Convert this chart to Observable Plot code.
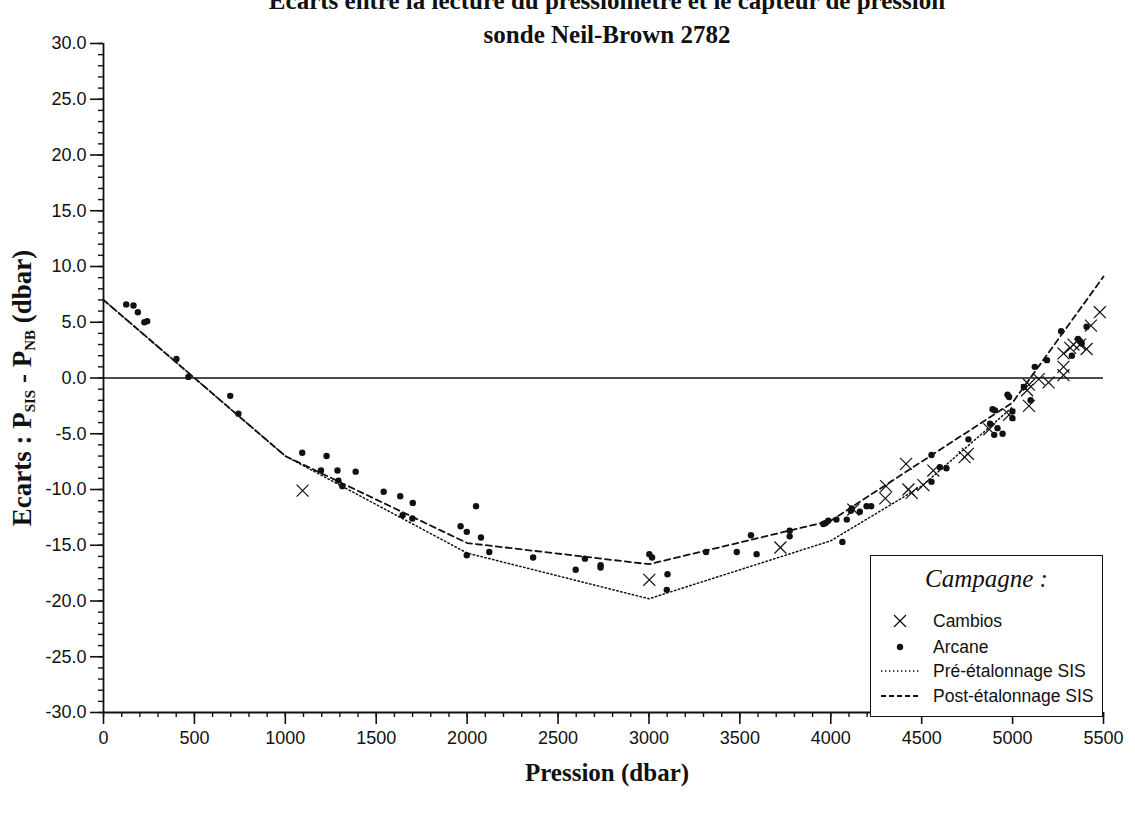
<!DOCTYPE html>
<html>
<head>
<meta charset="utf-8">
<script src="https://cdn.jsdelivr.net/npm/d3@7"></script>
<script src="https://cdn.jsdelivr.net/npm/@observablehq/plot@0.6"></script>
<style>
  html, body { margin: 0; padding: 0; background: white; }
  #wrap { position: relative; width: 1135px; height: 813px; overflow: hidden; }
  #legend { position: absolute; left: 870px; top: 555px; width: 233px; height: 162px;
    box-sizing: border-box; border: 1.5px solid #111; background: white;
    font-family: "Liberation Sans", Arial, sans-serif; font-size: 17.5px; color: #111; }
  #legend .ttl { position: absolute; left: 0; width: 100%; top: 8px; text-align: center;
    font-family: "Liberation Serif", "Times New Roman", serif; font-style: italic; font-size: 25px; line-height: 30px; }
  #legend .row { position: absolute; left: 0; width: 100%; height: 20px; line-height: 20px; }
  #legend .row svg { position: absolute; left: 10px; top: 0; }
  #legend .row span { position: absolute; left: 62px; top: 0; white-space: nowrap; }
</style>
</head>
<body>
<div id="wrap"></div>
<script>
// ---- data ----
const titleLines = ["Ecarts entre la lecture du pressiomètre et le capteur de pression", "sonde Neil-Brown 2782"];
const xLabel = "Pression (dbar)";
const seriesNames = ["Cambios", "Arcane", "Pré-étalonnage SIS", "Post-étalonnage SIS"];
const legendTitle = "Campagne :";

const xMajorTicks = [0, 500, 1000, 1500, 2000, 2500, 3000, 3500, 4000, 4500, 5000, 5500];
const yMajorTicks = [-30, -25, -20, -15, -10, -5, 0, 5, 10, 15, 20, 25, 30];
const xMinorTicks = d3.range(0, 5501, 100);
const yMinorTicks = d3.range(-30, 31, 1);

// Cambios (crosses)
const cambiosP = [1095, 3002, 3723, 4124, 4300, 4304, 4414, 4427, 4445, 4509, 4564, 4736, 4754, 4872, 4981,
  5080, 5090, 5090, 5144, 5198, 5280, 5280, 5280, 5317, 5335, 5371, 5407, 5431, 5480];
const cambiosE = [-10.1, -18.1, -15.2, -11.8, -10.8, -9.7, -7.7, -10.0, -10.3, -9.6, -8.3, -7.1, -6.8, -4.6, -3.3,
  -1.1, -2.5, -0.6, -0.1, -0.4, 0.25, 1.0, 2.2, 2.7, 3.0, 3.0, 2.6, 4.7, 5.9];

// Arcane (dots)
const arcaneP = [125, 165, 189, 225, 240, 401, 467, 697, 742,
  1093, 1196, 1227, 1287, 1292, 1314, 1387, 1541, 1632, 1645, 1699, 1701,
  1964, 1998, 1998, 2049, 2076, 2122, 2363, 2597, 2648, 2734, 2734,
  3002, 3017, 3098, 3102, 3314, 3483, 3561, 3592, 3774, 3774,
  3959, 3972, 3986, 4031, 4064, 4088, 4110, 4115, 4160, 4197, 4222,
  4554, 4554, 4600, 4636, 4757, 4876, 4890, 4899, 4903, 4917, 4945, 4972, 4981, 4999, 4999,
  5062, 5099, 5122, 5189, 5267, 5326, 5360, 5371, 5380, 5407];
const arcaneE = [6.6, 6.5, 5.9, 5.0, 5.1, 1.7, 0.1, -1.6, -3.2,
  -6.7, -8.3, -7.0, -8.3, -9.2, -9.7, -8.4, -10.2, -10.6, -12.3, -12.6, -11.2,
  -13.3, -13.8, -15.9, -11.5, -14.3, -15.6, -16.1, -17.2, -16.2, -16.8, -17.0,
  -15.8, -16.1, -19.0, -17.6, -15.6, -15.6, -14.1, -15.8, -13.7, -14.2,
  -13.1, -13.0, -12.8, -12.7, -14.7, -12.7, -11.9, -11.7, -12.0, -11.5, -11.5,
  -6.9, -9.3, -8.0, -8.1, -5.5, -4.1, -2.8, -5.1, -2.9, -4.5, -5.0, -1.5, -1.7, -3.0, -3.6,
  -0.8, -2.0, 1.0, 1.6, 4.2, 2.0, 3.5, 3.3, 3.1, 4.6];

// Pré-étalonnage SIS (dotted)
const preP = [0, 1000, 2000, 3000, 4000, 4500, 5000];
const preE = [7.0, -7.0, -15.7, -19.8, -14.6, -9.7, -2.6];
// Post-étalonnage SIS (dashed)
const postP = [0, 1000, 2000, 3000, 4000, 5000, 5500];
const postE = [7.0, -7.0, -14.8, -16.7, -12.8, -2.2, 9.1];

// ---- build tables ----
const cambios = cambiosP.map((p, i) => ({p, e: cambiosE[i]}));
const arcane = arcaneP.map((p, i) => ({p, e: arcaneE[i]}));
const pre = preP.map((p, i) => ({p, e: preE[i]}));
const post = postP.map((p, i) => ({p, e: postE[i]}));

const fmt = d => d.toFixed(1);

const chart = Plot.plot({
  width: 1135,
  height: 813,
  marginTop: 43,
  marginRight: 32,
  marginBottom: 101,
  marginLeft: 103,
  x: {domain: [0, 5500]},
  y: {domain: [-30, 30]},
  style: {fontFamily: "'Liberation Sans', Arial, sans-serif", fontSize: "18px", color: "#111", background: "white", overflow: "visible"},
  marks: [
    Plot.axisX(xMinorTicks, {tickSize: 5, tickFormat: () => "", label: null, strokeWidth: 1.4}),
    Plot.axisX(xMajorTicks, {tickSize: 12, tickPadding: 7, tickFormat: d => String(d), label: null, strokeWidth: 1.6}),
    Plot.axisY(yMinorTicks, {tickSize: 5, tickFormat: () => "", label: null, strokeWidth: 1.4}),
    Plot.axisY(yMajorTicks, {tickSize: 13, tickPadding: 4, tickFormat: fmt, label: null, strokeWidth: 1.6}),
    Plot.ruleX([0], {stroke: "#111", strokeWidth: 1.8}),
    Plot.ruleY([-30], {stroke: "#111", strokeWidth: 1.8}),
    Plot.ruleY([0], {stroke: "#111", strokeWidth: 1.5}),
    Plot.line(pre, {x: "p", y: "e", stroke: "#111", strokeWidth: 1.5, strokeDasharray: "1.4,2.6"}),
    Plot.line(post, {x: "p", y: "e", stroke: "#111", strokeWidth: 1.8, strokeDasharray: "6,4"}),
    Plot.dot(arcane, {x: "p", y: "e", r: 3.2, fill: "#111", stroke: "none"}),
    Plot.dot(cambios, {x: "p", y: "e", symbol: "times", r: 5.5, stroke: "#111", strokeWidth: 1.2})
  ]
});

const svg = d3.select(chart);
const serif = "'Liberation Serif', 'Times New Roman', serif";
svg.append("text").attr("x", 607).attr("y", 9).attr("text-anchor", "middle")
  .attr("font-family", serif).attr("font-weight", "bold").attr("font-size", 25).attr("fill", "#111")
  .text(titleLines[0]);
svg.append("text").attr("x", 607).attr("y", 43).attr("text-anchor", "middle")
  .attr("font-family", serif).attr("font-weight", "bold").attr("font-size", 25).attr("fill", "#111")
  .text(titleLines[1]);
svg.append("text").attr("x", 607).attr("y", 781).attr("text-anchor", "middle")
  .attr("font-family", serif).attr("font-weight", "bold").attr("font-size", 25).attr("fill", "#111")
  .text(xLabel);
const yt = svg.append("text").attr("transform", "translate(31,388) rotate(-90)").attr("text-anchor", "middle")
  .attr("font-family", serif).attr("font-weight", "bold").attr("font-size", 27).attr("fill", "#111");
yt.append("tspan").text("Ecarts : P");
yt.append("tspan").attr("font-size", 15).attr("dy", 4).text("SIS");
yt.append("tspan").attr("dy", -4).text(" - P");
yt.append("tspan").attr("font-size", 15).attr("dy", 4).text("NB");
yt.append("tspan").attr("dy", -4).text(" (dbar)");

const wrap = document.getElementById("wrap");
wrap.appendChild(chart);

// legend
const lg = document.createElement("div");
lg.id = "legend";
const rowsY = [65, 91, 115, 140];
const samples = [
  `<line x1="13" y1="4" x2="25" y2="16" stroke="#111" stroke-width="1.2"/><line x1="25" y1="4" x2="13" y2="16" stroke="#111" stroke-width="1.2"/>`,
  `<circle cx="19" cy="10" r="3.2" fill="#111"/>`,
  `<line x1="0" y1="10" x2="40" y2="10" stroke="#111" stroke-width="1.5" stroke-dasharray="1.4,2.6"/>`,
  `<line x1="0" y1="10" x2="40" y2="10" stroke="#111" stroke-width="1.8" stroke-dasharray="5,3"/>`
];
let html = `<div class="ttl">${legendTitle}</div>`;
seriesNames.forEach((name, i) => {
  html += `<div class="row" style="top:${rowsY[i] - 10}px"><svg width="44" height="20">${samples[i]}</svg><span>${name}</span></div>`;
});
lg.innerHTML = html;
wrap.appendChild(lg);
</script>
</body>
</html>
